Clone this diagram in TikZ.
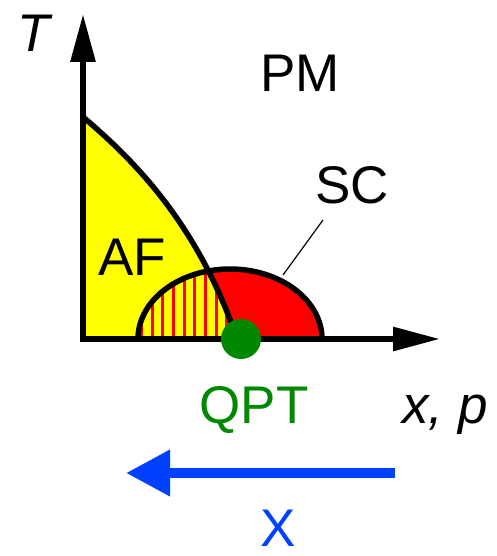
\documentclass[tikz,border=0pt]{standalone}
\usepackage{fontspec}
\setmainfont{Liberation Sans}
\usetikzlibrary{arrows.meta}
\definecolor{afyellow}{RGB}{255,255,0}
\definecolor{scred}{RGB}{255,0,0}
\definecolor{qgreen}{RGB}{0,136,0}
\definecolor{xblue}{RGB}{0,64,255}
\tikzset{
  lbl/.style={anchor=base,inner sep=0pt,font=\fontsize{53}{60}\selectfont},
  axisline/.style={line width=6pt,line join=miter,
    {Triangle[length=48pt,width=24pt]}-{Triangle[length=47pt,width=23pt]}},
  border/.style={line width=5.5pt,line join=round},
  hatch/.style={scred,line width=3pt},
}
\begin{document}
\begin{tikzpicture}[x=1pt,y=-1pt]
\useasboundingbox (0,0) rectangle (496,556);
\coordinate (O) at (83,339);
\coordinate (Ttip) at (83,14);
\coordinate (Xtip) at (440,339);
\coordinate (AFtop) at (83,117);
\coordinate (AFend) at (237,339);
\coordinate (SCl) at (138,339);
\coordinate (SCr) at (322,339);
% AF region
\fill[afyellow] (AFtop) .. controls (140,165) and (200,230) .. (AFend) -- (O) -- cycle;
% SC dome
\fill[scred] (SCl) arc[start angle=180,end angle=360,x radius=92,y radius=70] -- cycle;
% coexistence (hatched)
\begin{scope}
  \clip (AFtop) .. controls (140,165) and (200,230) .. (AFend) -- (O) -- cycle;
  \clip (SCl) arc[start angle=180,end angle=360,x radius=92,y radius=70] -- cycle;
  \fill[afyellow] (130,260) rectangle (245,345);
  \foreach \xx in {141.3,152,162.6,173.3,184,194.6,205.3,216,226.6,237.3}
    \draw[hatch] (\xx,260) -- (\xx,345);
\end{scope}
% outlines
\draw[border] (AFtop) .. controls (140,165) and (200,230) .. (AFend);
\draw[border] (SCl) arc[start angle=180,end angle=360,x radius=92,y radius=70];
% axes
\draw[axisline] (Ttip) -- (O) -- (Xtip);
% QPT dot
\fill[qgreen] (241,339) circle[radius=20];
% SC leader line
\coordinate (leadA) at (323,220);
\coordinate (leadB) at (283,275);
\draw[line width=1.2pt] (leadA) -- (leadB);
% labels
\node[lbl] (T) at (34,52) {\itshape T};
\node[lbl] (PM) at (300,92) {PM};
\node[lbl] (SC) at (352,203) {SC};
\node[lbl] (AF) at (132,275) {AF};
\node[lbl,text=qgreen] (QPT) at (254,423) {QPT};
\node[lbl] (xp) at (445,423) {\itshape x, p};
% X arrow
\coordinate (Bs) at (395,473);
\coordinate (Be) at (126,473);
\draw[xblue,line width=10pt,-{Triangle[length=44pt,width=44pt]}] (Bs) -- (Be);
\node[lbl,text=xblue] (X) at (278,546) {X};
\end{tikzpicture}
\end{document}
